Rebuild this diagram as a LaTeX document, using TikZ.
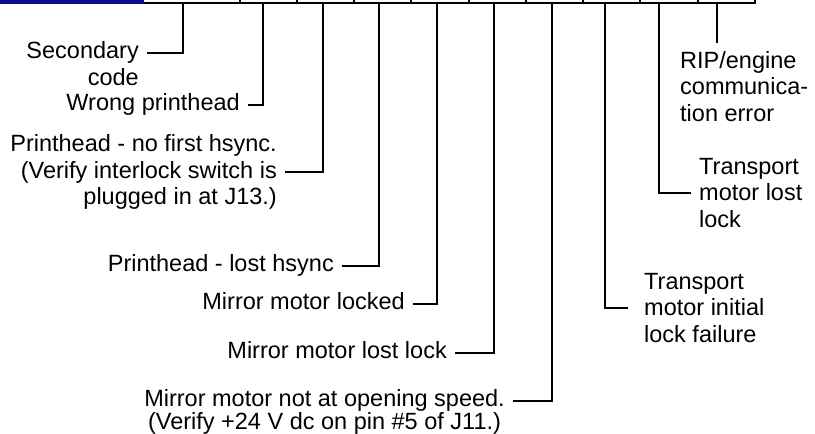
\documentclass[tikz,border=0pt]{standalone}
\usepackage{fontspec}
\setmainfont{Liberation Sans}
\usetikzlibrary{positioning}
\definecolor{barblue}{HTML}{0B0B8C}
\newcommand{\lblfont}{\fontsize{23.5}{26.5}\selectfont}

\begin{document}
\begin{tikzpicture}[x=1pt,y=-1pt,
    lbl/.style={font=\lblfont,inner ysep=0pt,inner xsep=8pt},
    oneline/.style={lbl,text height=19pt,text depth=7.5pt},
    lead/.style={line width=2.9pt},
    tick/.style={line width=1.4pt}]
  \useasboundingbox (0,0) rectangle (815,434);
  % register strip along the top edge
  \fill[barblue] (0,0) rectangle (144,3.6);
  \draw[line width=2pt] (144,2.6) -- (756,2.6);
  \foreach \x in {240,297,354,411,469,526,583,640,698,755}
    \draw[tick] (\x,0) -- (\x,2.6);
  \foreach \x/\tap in {183/t1,263/t2,323/t3,379/t4,437/t5,494/t6,552/t7,605/t8,659/t9,717/t10}
    \coordinate (\tap) at (\x,2.6);
  % labels left of the taps
  \node[oneline,anchor=east] (sec) at (147,53) {Secondary};
  \node[oneline,anchor=north east] (code) at (sec.south east) {code};
  \node[oneline,anchor=east] (wrong) at (248,105) {Wrong printhead};
  \node[lbl,align=right,anchor=east] (nofirst) at (285,172)
    {Printhead - no first hsync.\\(Verify interlock switch is\\plugged in at J13.)};
  \node[oneline,anchor=east] (losth) at (342,266) {Printhead - lost hsync};
  \node[oneline,anchor=east] (locked) at (413,304) {Mirror motor locked};
  \node[oneline,anchor=east] (lostlk) at (455,353) {Mirror motor lost lock};
  \node[oneline,anchor=east] (openspd) at (513,401) {Mirror motor not at opening speed.};
  \node[oneline,anchor=north] (openchk) at ([yshift=4.5pt]openspd.south)
    {(Verify +24 V dc on pin \#5 of J11.)};
  % labels right of the taps
  \node[lbl,align=left,anchor=west,inner xsep=16pt] (trinit) at (628,308)
    {Transport\\motor initial\\lock failure};
  \node[lbl,align=left,anchor=west] (trlost) at (691,193)
    {Transport\\motor lost\\lock};
  \node[lbl,align=left,anchor=north west,inner ysep=8pt] (rip) at (672,43)
    {RIP/engine\\communica-\\tion error};
  % leads
  \draw[lead] (t1) |- (sec.east);
  \draw[lead] (t2) |- (wrong.east);
  \draw[lead] (t3) |- (nofirst.east);
  \draw[lead] (t4) |- (losth.east);
  \draw[lead] (t5) |- (locked.east);
  \draw[lead] (t6) |- (lostlk.east);
  \draw[lead] (t7) |- (openspd.east);
  \draw[lead] (t8) |- (trinit.west);
  \draw[lead] (t9) |- (trlost.west);
  \draw[lead] (t10) -- (t10 |- rip.north);
\end{tikzpicture}
\end{document}
